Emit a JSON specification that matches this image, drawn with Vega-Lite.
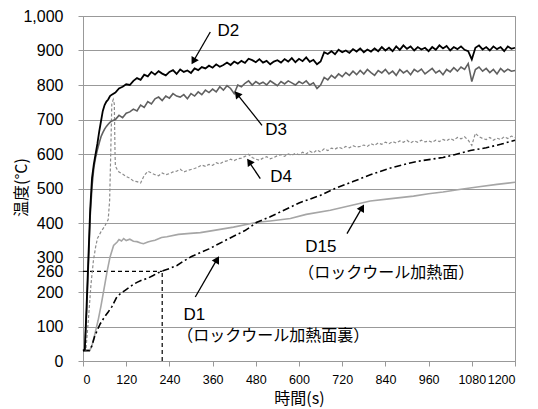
{
  "$schema": "https://vega.github.io/schema/vega-lite/v6.json",
  "width": 432,
  "height": 345,
  "autosize": {"type": "none"},
  "padding": {"left": 83, "top": 16, "right": 23, "bottom": 48},
  "background": "white",
  "config": {
    "view": {"stroke": "#999999", "strokeWidth": 1},
    "font": "Liberation Sans"
  },
  "datasets": {
    "d2": [
      {"t":0,"v":30},{"t":5,"v":32},{"t":10,"v":160},{"t":15,"v":300},{"t":20,"v":440},{"t":25,"v":530},{"t":30,"v":570},{"t":35,"v":600},{"t":40,"v":630},{"t":45,"v":665},{"t":50,"v":695},{"t":55,"v":725},{"t":60,"v":742},{"t":65,"v":752},{"t":70,"v":758},{"t":75,"v":768},{"t":80,"v":772},{"t":90,"v":778},{"t":100,"v":790},{"t":110,"v":795},{"t":120,"v":802},{"t":130,"v":800},{"t":140,"v":812},{"t":150,"v":820},{"t":160,"v":815},{"t":170,"v":830},{"t":180,"v":825},{"t":190,"v":838},{"t":200,"v":830},{"t":210,"v":840},{"t":220,"v":833},{"t":230,"v":828},{"t":240,"v":838},{"t":250,"v":843},{"t":260,"v":832},{"t":270,"v":845},{"t":280,"v":838},{"t":290,"v":842},{"t":300,"v":835},{"t":310,"v":848},{"t":320,"v":843},{"t":330,"v":852},{"t":340,"v":848},{"t":350,"v":856},{"t":360,"v":850},{"t":370,"v":860},{"t":380,"v":853},{"t":390,"v":858},{"t":400,"v":865},{"t":410,"v":858},{"t":420,"v":868},{"t":430,"v":862},{"t":440,"v":870},{"t":450,"v":864},{"t":460,"v":876},{"t":470,"v":872},{"t":480,"v":866},{"t":490,"v":875},{"t":500,"v":865},{"t":510,"v":870},{"t":520,"v":860},{"t":530,"v":868},{"t":540,"v":872},{"t":550,"v":865},{"t":560,"v":875},{"t":570,"v":868},{"t":580,"v":878},{"t":590,"v":866},{"t":600,"v":876},{"t":610,"v":869},{"t":620,"v":880},{"t":630,"v":867},{"t":640,"v":873},{"t":650,"v":860},{"t":660,"v":868},{"t":670,"v":895},{"t":680,"v":890},{"t":690,"v":898},{"t":700,"v":889},{"t":710,"v":902},{"t":720,"v":895},{"t":730,"v":900},{"t":740,"v":893},{"t":750,"v":904},{"t":760,"v":897},{"t":770,"v":906},{"t":780,"v":895},{"t":790,"v":903},{"t":800,"v":897},{"t":810,"v":906},{"t":820,"v":898},{"t":830,"v":910},{"t":840,"v":900},{"t":850,"v":908},{"t":860,"v":898},{"t":870,"v":912},{"t":880,"v":902},{"t":890,"v":915},{"t":900,"v":905},{"t":910,"v":912},{"t":920,"v":900},{"t":930,"v":910},{"t":940,"v":903},{"t":950,"v":908},{"t":960,"v":898},{"t":970,"v":910},{"t":980,"v":902},{"t":990,"v":915},{"t":1000,"v":906},{"t":1010,"v":913},{"t":1020,"v":900},{"t":1030,"v":910},{"t":1040,"v":904},{"t":1050,"v":912},{"t":1060,"v":902},{"t":1070,"v":898},{"t":1080,"v":874},{"t":1090,"v":908},{"t":1100,"v":915},{"t":1110,"v":903},{"t":1120,"v":910},{"t":1130,"v":900},{"t":1140,"v":912},{"t":1150,"v":904},{"t":1160,"v":910},{"t":1170,"v":898},{"t":1180,"v":912},{"t":1190,"v":905},{"t":1200,"v":908}
    ],
    "d3": [
      {"t":0,"v":30},{"t":5,"v":33},{"t":10,"v":140},{"t":15,"v":280},{"t":20,"v":420},{"t":25,"v":505},{"t":30,"v":560},{"t":35,"v":590},{"t":40,"v":612},{"t":45,"v":632},{"t":50,"v":650},{"t":55,"v":662},{"t":60,"v":672},{"t":65,"v":680},{"t":70,"v":686},{"t":75,"v":692},{"t":80,"v":696},{"t":90,"v":700},{"t":100,"v":712},{"t":110,"v":705},{"t":120,"v":718},{"t":130,"v":722},{"t":140,"v":730},{"t":150,"v":725},{"t":160,"v":742},{"t":170,"v":735},{"t":180,"v":752},{"t":190,"v":745},{"t":200,"v":760},{"t":210,"v":765},{"t":220,"v":755},{"t":230,"v":768},{"t":240,"v":762},{"t":250,"v":775},{"t":260,"v":768},{"t":270,"v":765},{"t":280,"v":772},{"t":290,"v":760},{"t":300,"v":775},{"t":310,"v":768},{"t":320,"v":780},{"t":330,"v":772},{"t":340,"v":785},{"t":350,"v":778},{"t":360,"v":788},{"t":370,"v":780},{"t":380,"v":795},{"t":390,"v":785},{"t":400,"v":798},{"t":410,"v":790},{"t":420,"v":775},{"t":430,"v":800},{"t":440,"v":795},{"t":450,"v":805},{"t":460,"v":812},{"t":470,"v":800},{"t":480,"v":810},{"t":490,"v":803},{"t":500,"v":808},{"t":510,"v":800},{"t":520,"v":812},{"t":530,"v":805},{"t":540,"v":798},{"t":550,"v":810},{"t":560,"v":803},{"t":570,"v":812},{"t":580,"v":806},{"t":590,"v":800},{"t":600,"v":810},{"t":610,"v":804},{"t":620,"v":812},{"t":630,"v":800},{"t":640,"v":806},{"t":650,"v":790},{"t":660,"v":800},{"t":670,"v":822},{"t":680,"v":815},{"t":690,"v":828},{"t":700,"v":820},{"t":710,"v":832},{"t":720,"v":824},{"t":730,"v":836},{"t":740,"v":828},{"t":750,"v":840},{"t":760,"v":830},{"t":770,"v":842},{"t":780,"v":832},{"t":790,"v":845},{"t":800,"v":836},{"t":810,"v":828},{"t":820,"v":842},{"t":830,"v":835},{"t":840,"v":845},{"t":850,"v":832},{"t":860,"v":840},{"t":870,"v":828},{"t":880,"v":845},{"t":890,"v":835},{"t":900,"v":842},{"t":910,"v":830},{"t":920,"v":845},{"t":930,"v":838},{"t":940,"v":846},{"t":950,"v":832},{"t":960,"v":840},{"t":970,"v":848},{"t":980,"v":835},{"t":990,"v":842},{"t":1000,"v":830},{"t":1010,"v":845},{"t":1020,"v":838},{"t":1030,"v":850},{"t":1040,"v":840},{"t":1050,"v":852},{"t":1060,"v":845},{"t":1070,"v":862},{"t":1080,"v":810},{"t":1090,"v":845},{"t":1100,"v":852},{"t":1110,"v":840},{"t":1120,"v":848},{"t":1130,"v":836},{"t":1140,"v":845},{"t":1150,"v":832},{"t":1160,"v":848},{"t":1170,"v":838},{"t":1180,"v":846},{"t":1190,"v":840},{"t":1200,"v":842}
    ],
    "d4": [
      {"t":0,"v":30},{"t":8,"v":32},{"t":15,"v":120},{"t":22,"v":220},{"t":29,"v":292},{"t":35,"v":330},{"t":40,"v":355},{"t":50,"v":375},{"t":60,"v":390},{"t":70,"v":410},{"t":74,"v":465},{"t":77,"v":600},{"t":80,"v":745},{"t":84,"v":758},{"t":87,"v":745},{"t":89,"v":600},{"t":90,"v":565},{"t":95,"v":555},{"t":100,"v":548},{"t":110,"v":542},{"t":120,"v":535},{"t":130,"v":530},{"t":140,"v":522},{"t":150,"v":520},{"t":160,"v":516},{"t":170,"v":538},{"t":180,"v":550},{"t":190,"v":545},{"t":200,"v":540},{"t":210,"v":537},{"t":220,"v":545},{"t":230,"v":540},{"t":240,"v":543},{"t":250,"v":548},{"t":260,"v":550},{"t":270,"v":556},{"t":280,"v":548},{"t":290,"v":552},{"t":300,"v":555},{"t":310,"v":558},{"t":320,"v":562},{"t":330,"v":568},{"t":340,"v":564},{"t":350,"v":570},{"t":360,"v":567},{"t":370,"v":575},{"t":380,"v":571},{"t":390,"v":578},{"t":400,"v":580},{"t":410,"v":585},{"t":420,"v":581},{"t":430,"v":586},{"t":440,"v":588},{"t":450,"v":593},{"t":460,"v":599},{"t":470,"v":590},{"t":480,"v":585},{"t":490,"v":582},{"t":500,"v":588},{"t":510,"v":592},{"t":520,"v":586},{"t":530,"v":590},{"t":540,"v":595},{"t":550,"v":598},{"t":560,"v":593},{"t":570,"v":600},{"t":580,"v":596},{"t":590,"v":602},{"t":600,"v":598},{"t":610,"v":605},{"t":620,"v":600},{"t":630,"v":608},{"t":640,"v":603},{"t":650,"v":612},{"t":660,"v":606},{"t":670,"v":615},{"t":680,"v":610},{"t":690,"v":617},{"t":700,"v":614},{"t":710,"v":620},{"t":720,"v":616},{"t":730,"v":622},{"t":740,"v":618},{"t":750,"v":624},{"t":760,"v":620},{"t":770,"v":622},{"t":780,"v":626},{"t":790,"v":622},{"t":800,"v":630},{"t":810,"v":625},{"t":820,"v":632},{"t":830,"v":628},{"t":840,"v":634},{"t":850,"v":630},{"t":860,"v":636},{"t":870,"v":632},{"t":880,"v":638},{"t":890,"v":634},{"t":900,"v":640},{"t":910,"v":632},{"t":920,"v":638},{"t":930,"v":634},{"t":940,"v":640},{"t":950,"v":635},{"t":960,"v":638},{"t":970,"v":634},{"t":980,"v":640},{"t":990,"v":636},{"t":1000,"v":642},{"t":1010,"v":638},{"t":1020,"v":645},{"t":1030,"v":640},{"t":1040,"v":648},{"t":1050,"v":644},{"t":1060,"v":650},{"t":1070,"v":640},{"t":1080,"v":625},{"t":1090,"v":660},{"t":1100,"v":650},{"t":1110,"v":645},{"t":1120,"v":642},{"t":1130,"v":648},{"t":1140,"v":640},{"t":1150,"v":646},{"t":1160,"v":642},{"t":1170,"v":650},{"t":1180,"v":645},{"t":1190,"v":652},{"t":1200,"v":648}
    ],
    "d1": [
      {"t":0,"v":30},{"t":18,"v":30},{"t":25,"v":45},{"t":32,"v":70},{"t":40,"v":90},{"t":48,"v":108},{"t":60,"v":128},{"t":70,"v":142},{"t":80,"v":157},{"t":94,"v":186},{"t":105,"v":196},{"t":117,"v":205},{"t":130,"v":215},{"t":140,"v":222},{"t":150,"v":228},{"t":163,"v":234},{"t":180,"v":240},{"t":195,"v":248},{"t":209,"v":256},{"t":224,"v":262},{"t":240,"v":268},{"t":261,"v":277},{"t":280,"v":290},{"t":300,"v":302},{"t":350,"v":325},{"t":400,"v":352},{"t":450,"v":378},{"t":483,"v":402},{"t":520,"v":418},{"t":576,"v":446},{"t":600,"v":458},{"t":659,"v":480},{"t":700,"v":500},{"t":750,"v":520},{"t":798,"v":540},{"t":850,"v":558},{"t":900,"v":572},{"t":937,"v":580},{"t":1000,"v":590},{"t":1032,"v":598},{"t":1076,"v":610},{"t":1120,"v":618},{"t":1160,"v":628},{"t":1200,"v":640}
    ],
    "d15": [
      {"t":0,"v":30},{"t":19,"v":32},{"t":24,"v":41},{"t":30,"v":65},{"t":42,"v":118},{"t":50,"v":160},{"t":61,"v":224},{"t":67,"v":260},{"t":75,"v":301},{"t":85,"v":335},{"t":95,"v":345},{"t":100,"v":352},{"t":107,"v":348},{"t":113,"v":355},{"t":120,"v":349},{"t":130,"v":353},{"t":140,"v":347},{"t":150,"v":346},{"t":160,"v":342},{"t":168,"v":340},{"t":180,"v":345},{"t":190,"v":348},{"t":200,"v":350},{"t":218,"v":358},{"t":233,"v":360},{"t":265,"v":367},{"t":298,"v":370},{"t":326,"v":372},{"t":360,"v":378},{"t":418,"v":388},{"t":483,"v":402},{"t":520,"v":406},{"t":576,"v":413},{"t":620,"v":425},{"t":687,"v":437},{"t":750,"v":452},{"t":798,"v":464},{"t":850,"v":470},{"t":918,"v":478},{"t":960,"v":485},{"t":1000,"v":490},{"t":1050,"v":498},{"t":1100,"v":505},{"t":1150,"v":512},{"t":1200,"v":518}
    ],
    "guides": [
      {"t":0,"v":260,"t2":220,"v2":260},
      {"t":220,"v":0,"t2":220,"v2":260}
    ],
    "arrows": [
      {"t":353.6,"v":953.6,"t2":305,"v2":866},
      {"t":497.2,"v":683.2,"t2":427,"v2":775},
      {"t":492.5,"v":528.7,"t2":462,"v2":576},
      {"t":733.3,"v":369.3,"t2":776,"v2":446},
      {"t":311.9,"v":185.5,"t2":373,"v2":296}
    ],
    "labels": [
      {"t":373.6,"v":955.7,"label":"D2"},
      {"t":506.4,"v":668.7,"label":"D3"},
      {"t":520.3,"v":534,"label":"D4"},
      {"t":617.5,"v":331,"label":"D15"},
      {"t":279,"v":134,"label":"D1"}
    ],
    "jlabels": [
      {"t":598,"v":255.6,"label":"（ロックウール加熱面）"},
      {"t":262,"v":71.6,"label":"（ロックウール加熱面裏）"}
    ]
  },
  "encoding": {
    "x": {
      "field": "t", "type": "quantitative",
      "scale": {"domain": [0, 1200], "nice": false, "zero": false},
      "axis": {
        "title": "時間(s)", "values": [0,120,240,360,480,600,720,840,960,1080,1200],
        "format": "d", "labelOverlap": false,
        "grid": false, "domainColor": "#999999", "tickColor": "#999999", "tickSize": 5,
        "labelFont": "Liberation Sans", "labelFontSize": 12.5, "labelColor": "#000000", "labelPadding": 7,
        "titleFont": "Noto Sans CJK JP", "titleFontSize": 16, "titleFontWeight": "normal", "titleColor": "#000000", "titlePadding": 5
      }
    },
    "y": {
      "field": "v", "type": "quantitative",
      "scale": {"domain": [0, 1000], "nice": false},
      "axis": {
        "title": "温度(°C)", "values": [0,100,200,260,300,400,500,600,700,800,900,1000],
        "format": ",.0f", "labelOverlap": false,
        "grid": true, "gridColor": "#999999", "gridWidth": 1,
        "gridOpacity": {"condition": {"test": "datum.value === 260", "value": 0}, "value": 1},
        "domainColor": "#999999", "tickColor": "#999999", "tickSize": 5,
        "labelFont": "Liberation Sans", "labelFontSize": 16, "labelColor": "#000000", "labelPadding": 15,
        "titleFont": "Noto Sans CJK JP", "titleFontSize": 16, "titleFontWeight": "normal", "titleColor": "#000000",
        "titleAngle": -90, "titleAlign": "center", "titleBaseline": "middle", "titleX": -62, "titleY": 171
      }
    }
  },
  "layer": [
    {"data": {"name": "guides"}, "mark": {"type": "rule", "color": "#000000", "strokeWidth": 1.2, "strokeDash": [4, 3]},
     "encoding": {"x2": {"field": "t2"}, "y2": {"field": "v2"}}},
    {"data": {"name": "d15"}, "mark": {"type": "line", "color": "#a6a6a6", "strokeWidth": 1.6}},
    {"data": {"name": "d1"}, "mark": {"type": "line", "color": "#000000", "strokeWidth": 1.6, "strokeDash": [7, 3, 2, 3]}},
    {"data": {"name": "d4"}, "mark": {"type": "line", "color": "#8c8c8c", "strokeWidth": 1.2, "strokeDash": [3, 2]}},
    {"data": {"name": "d3"}, "mark": {"type": "line", "color": "#606060", "strokeWidth": 1.6}},
    {"data": {"name": "d2"}, "mark": {"type": "line", "color": "#000000", "strokeWidth": 1.8}},
    {"data": {"name": "arrows"}, "mark": {"type": "rule", "color": "#000000", "strokeWidth": 1.3},
     "encoding": {"x2": {"field": "t2"}, "y2": {"field": "v2"}}},
    {"data": {"values": [{"t": 308.3, "v": 872}]}, "mark": {"type": "point", "shape": "triangle", "filled": true, "color": "#000000", "size": 70, "angle": 210, "opacity": 1}},
    {"data": {"values": [{"t": 430, "v": 770.7}]}, "mark": {"type": "point", "shape": "triangle", "filled": true, "color": "#000000", "size": 70, "angle": 321, "opacity": 1}},
    {"data": {"values": [{"t": 463.6, "v": 575}]}, "mark": {"type": "point", "shape": "triangle", "filled": true, "color": "#000000", "size": 70, "angle": 325, "opacity": 1}},
    {"data": {"values": [{"t": 773.9, "v": 441.2}]}, "mark": {"type": "point", "shape": "triangle", "filled": true, "color": "#000000", "size": 70, "angle": 30, "opacity": 1}},
    {"data": {"values": [{"t": 371.1, "v": 291.3}]}, "mark": {"type": "point", "shape": "triangle", "filled": true, "color": "#000000", "size": 70, "angle": 30, "opacity": 1}},
    {"data": {"name": "labels"}, "mark": {"type": "text", "align": "left", "baseline": "middle", "font": "Liberation Sans", "fontSize": 17, "color": "#000000"},
     "encoding": {"text": {"field": "label"}}},
    {"data": {"name": "jlabels"}, "mark": {"type": "text", "align": "left", "baseline": "middle", "font": "Noto Sans CJK JP", "fontSize": 16, "color": "#000000"},
     "encoding": {"text": {"field": "label"}}}
  ]
}
